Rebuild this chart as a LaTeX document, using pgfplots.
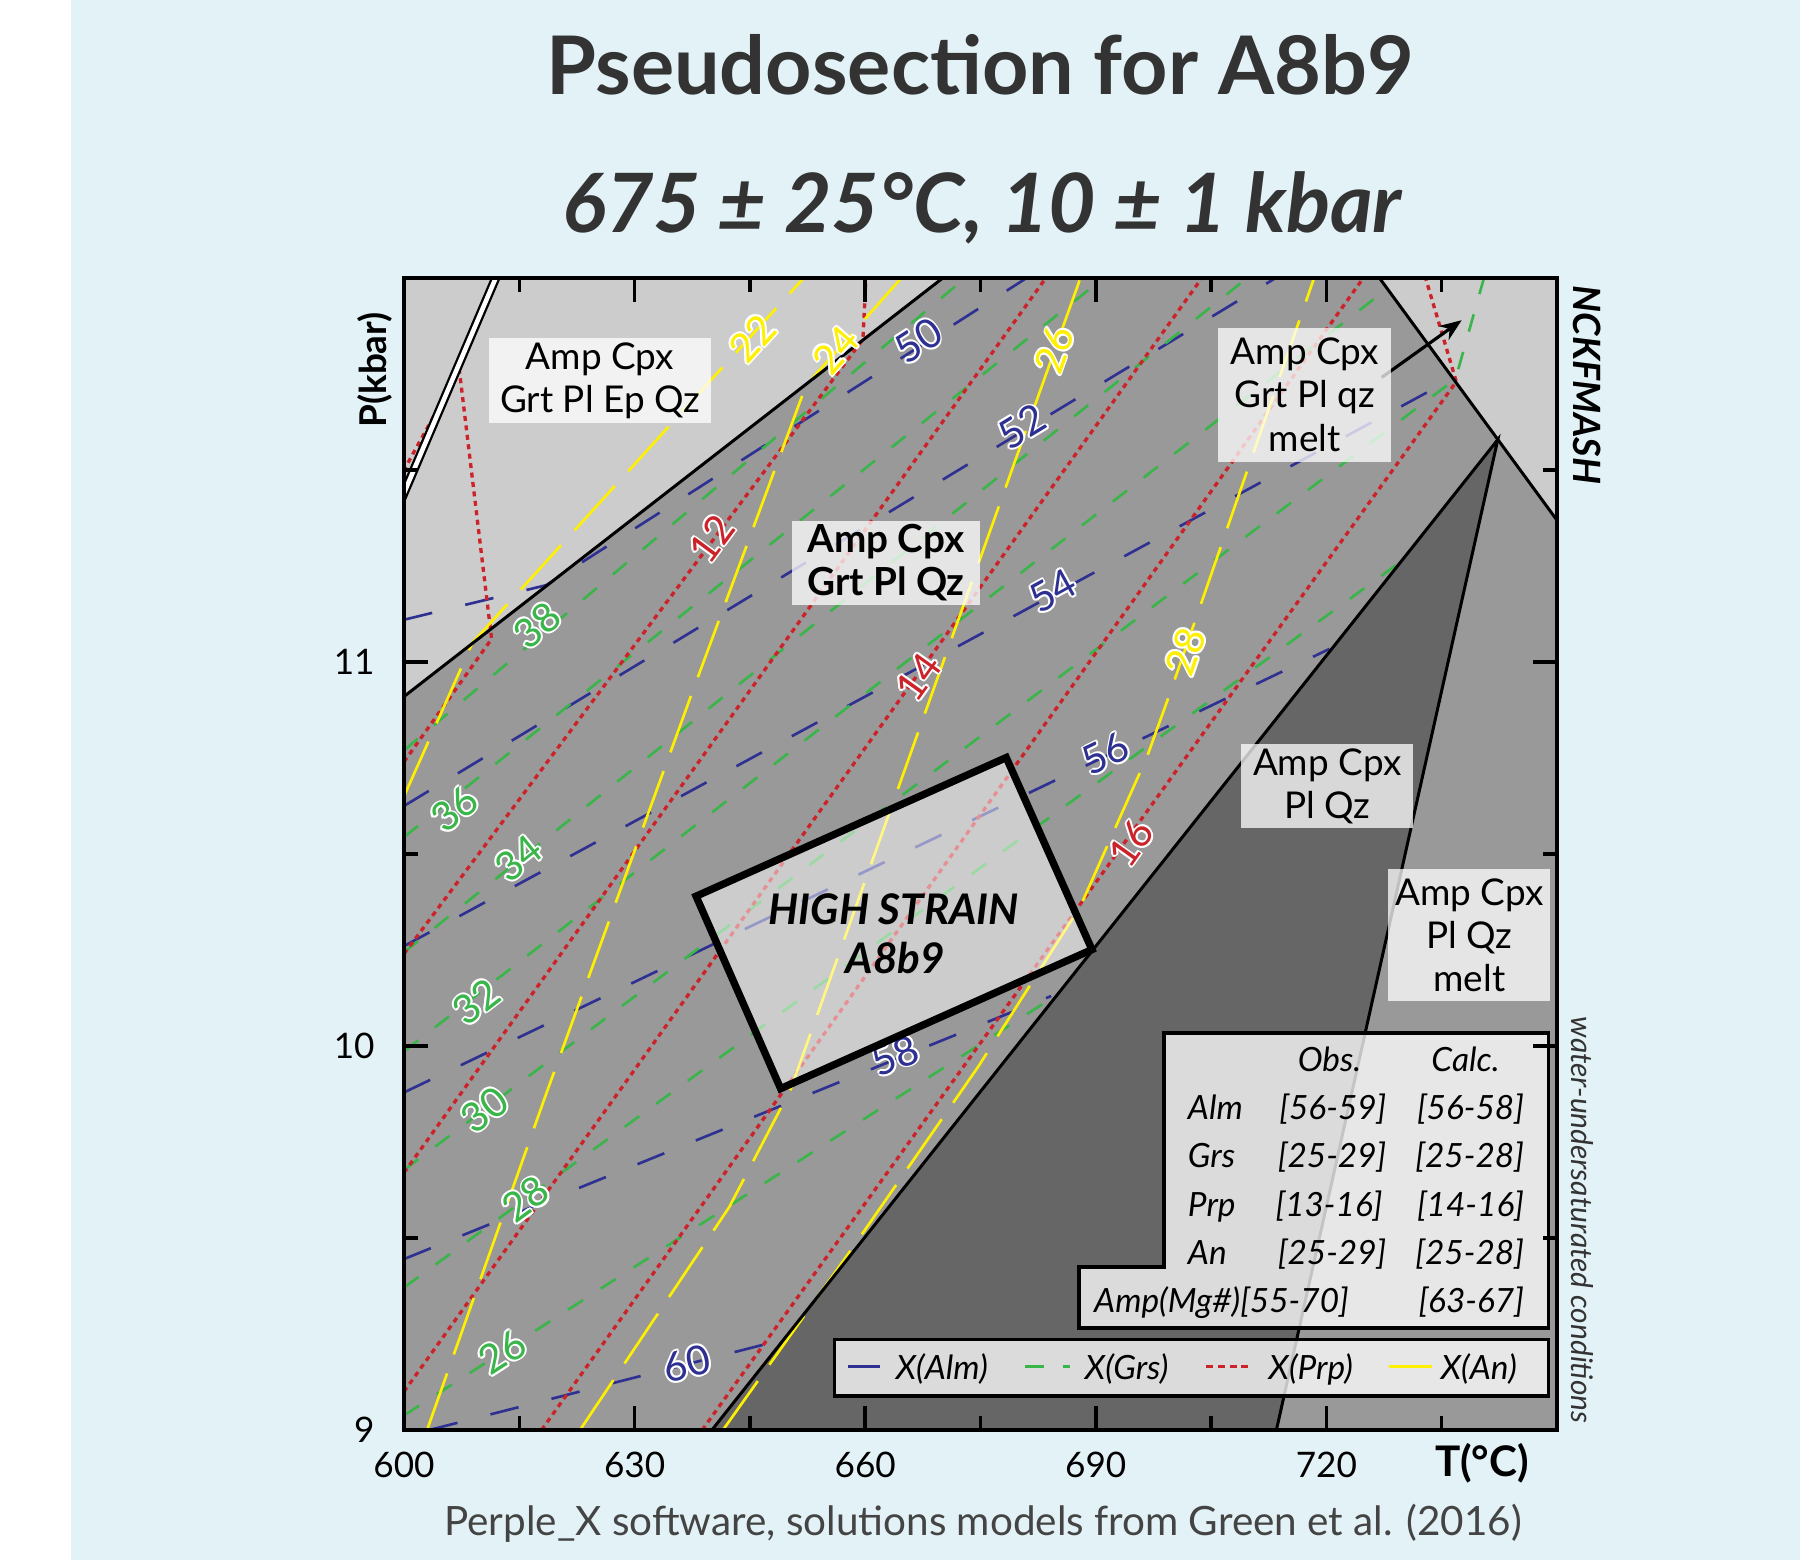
\documentclass[border=0pt]{standalone}
\usepackage{fontspec}
\setmainfont{Lato}
\usepackage{pgfplots}
\pgfplotsset{compat=1.18}
\usetikzlibrary{arrows.meta}

\definecolor{bgblue}{RGB}{227,242,246}
\definecolor{lgray}{RGB}{204,204,204}
\definecolor{mgray}{RGB}{153,153,153}
\definecolor{dgray}{RGB}{102,102,102}
\definecolor{almc}{RGB}{46,49,146}
\definecolor{grsc}{RGB}{57,181,74}
\definecolor{prpc}{RGB}{204,34,41}
\definecolor{anc}{RGB}{255,240,0}
\definecolor{tgray}{RGB}{51,51,51}
\definecolor{fgray}{RGB}{68,68,68}

% coloured text with a thin white outline
\newcommand\hl[2]{{\setbox0=\hbox{#2}\color{white}%
 \rlap{\kern0.55pt\copy0}\rlap{\kern-0.55pt\copy0}\rlap{\raise0.55pt\copy0}\rlap{\lower0.55pt\copy0}%
 \rlap{\kern0.4pt\raise0.4pt\copy0}\rlap{\kern-0.4pt\raise0.4pt\copy0}\rlap{\kern0.4pt\lower0.4pt\copy0}\rlap{\kern-0.4pt\lower0.4pt\copy0}%
 \color{#1}\copy0}}

\pgfplotsset{
 almL/.style={color=almc, line width=0.75pt, dash pattern=on 0.29cm off 0.34cm},
 grsL/.style={color=grsc, line width=0.75pt, dash pattern=on 0.18cm off 0.21cm},
 prpL/.style={color=prpc, line width=0.95pt, dash pattern=on 0.05cm off 0.045cm},
 anL/.style={color=anc, line width=0.75pt, dash pattern=on 0.6cm off 0.2cm},
 bnd/.style={color=black, line width=0.85pt},
}
\tikzset{
 clab/.style={inner sep=0pt, font=\fontsize{11.5}{13}\selectfont},
 pbox/.style={fill=white, fill opacity=0.75, text opacity=1, inner sep=0pt, align=center, font=\fontsize{10.5}{12.3}\selectfont},
 tab/.style={inner sep=0pt, font=\fontsize{9.5}{11}\selectfont\itshape},
}

\begin{document}
\begin{tikzpicture}
\useasboundingbox (0,0) rectangle (18,15.6);
\fill[white] (0,0) rectangle (0.71,15.6);
\fill[bgblue] (0.71,0) rectangle (18,15.6);

\begin{axis}[
  at={(4.04cm,1.30cm)}, anchor=south west,
  scale only axis, width=11.53cm, height=11.52cm,
  xmin=600, xmax=750, ymin=9, ymax=12,
  axis background/.style={fill=mgray},
  axis on top,
  xtick={600,630,660,690,720}, minor xtick={615,645,675,705,735},
  ytick={9,10,11}, minor ytick={9.5,10.5,11.5},
  tick align=inside, major tick length=0.24cm, minor tick length=0.14cm,
  every tick/.style={black, line width=1pt},
  axis line style={line width=1.1pt},
  ticklabel style={font=\fontsize{10}{12}\selectfont},
  xticklabel style={yshift=-0.1cm},
  yticklabel style={xshift=-0.17cm},
  /pgf/number format/assume math mode=true,
]

% ---- phase fields
\addplot[draw=none, fill=lgray] coordinates {(600,10.91) (670.1,12) (600,12)} -- cycle;
\addplot[draw=none, fill=lgray] coordinates {(726.9,12) (742.3,11.579) (750,11.369) (750,12)} -- cycle;
\addplot[draw=none, fill=dgray] coordinates {(640.06,9) (742.3,11.579) (713.5,9)} -- cycle;

% ---- X(Alm)
\addplot[almL] coordinates {(600,11.11) (618.5,11.20) (681,12)};
\addplot[almL] coordinates {(600,10.625) (713.4,12)};
\addplot[almL] coordinates {(600,10.26) (736.6,11.74)};
\addplot[almL] coordinates {(600,9.879) (720.4,11.034)};
\addplot[almL] coordinates {(600,9.445) (684.2,10.13)};
\addplot[almL] coordinates {(603.3,9.0) (649.3,9.235)};

% ---- X(Grs)
\addplot[grsL] coordinates {(600,10.77) (673,12)};
\addplot[grsL] coordinates {(600,10.544) (691,12)};
\addplot[grsL] coordinates {(600,10.244) (709.7,12)};
\addplot[grsL] coordinates {(600,9.986) (728.1,11.975)};
\addplot[grsL] coordinates {(600,9.677) (736.8,11.737) (740.5,12)};
\addplot[grsL] coordinates {(600,9.371) (729.6,11.26)};
\addplot[grsL] coordinates {(600,9.038) (684.7,10.13)};

% ---- X(Prp)
\addplot[prpL] coordinates {(600,10.74) (611.4,11.06) (607.2,11.76) (600,11.50)};
\addplot[prpL] coordinates {(600,10.24) (659.7,11.84) (660.1,12)};
\addplot[prpL] coordinates {(600,9.67) (683.5,12)};
\addplot[prpL] coordinates {(600,9.10) (703.8,12)};
\addplot[prpL] coordinates {(617.9,9.0) (724.8,12)};
\addplot[prpL] coordinates {(638.8,9.0) (687.5,10.356) (736.9,11.73) (732.9,12)};

% ---- X(An)
\addplot[anL] coordinates {(600,10.65) (608.9,11.05) (652,12)};
\addplot[anL] coordinates {(603,9.0) (618.4,9.87) (637.3,10.91) (652.3,11.72) (664.7,12)};
\addplot[anL] coordinates {(622.9,9.0) (642.3,9.58) (650.3,9.887) (688,12)};
\addplot[anL] coordinates {(641.5,9.0) (658.2,9.47) (674.7,9.946) (688,10.364) (696.7,10.755) (699.5,10.91) (718.4,12)};

% ---- field boundaries
\addplot[bnd] coordinates {(600,10.91) (670.1,12)};
\addplot[bnd] coordinates {(726.9,12) (750,11.369)};
\addplot[bnd] coordinates {(640.06,9) (742.3,11.579) (713.5,9)};
\addplot[black, line width=2.6pt] coordinates {(598,11.346) (613,12.05)};
\addplot[white, line width=1.3pt] coordinates {(598,11.346) (613,12.05)};
\addplot[black, line width=0.9pt, -{Stealth[length=0.22cm, width=0.17cm]}] coordinates {(727.2,11.741) (737.6,11.89)};

% ---- contour labels
\node[clab, rotate=32.6] at (axis cs:666.9,11.837) {\hl{almc}{50}};
\node[clab, rotate=31.2] at (axis cs:680.4,11.613) {\hl{almc}{52}};
\node[clab, rotate=28.8] at (axis cs:684.4,11.185) {\hl{almc}{54}};
\node[clab, rotate=25.6] at (axis cs:691.3,10.761) {\hl{almc}{56}};
\node[clab, rotate=21.8] at (axis cs:663.9,9.975) {\hl{almc}{58}};
\node[clab, rotate=14.3] at (axis cs:636.8,9.173) {\hl{almc}{60}};
\node[clab, rotate=40] at (axis cs:617.3,11.096) {\hl{grsc}{38}};
\node[clab, rotate=38.6] at (axis cs:606.6,10.617) {\hl{grsc}{36}};
\node[clab, rotate=38.6] at (axis cs:614.9,10.489) {\hl{grsc}{34}};
\node[clab, rotate=37.7] at (axis cs:609.4,10.115) {\hl{grsc}{32}};
\node[clab, rotate=37] at (axis cs:610.5,9.834) {\hl{grsc}{30}};
\node[clab, rotate=36.1] at (axis cs:615.8,9.601) {\hl{grsc}{28}};
\node[clab, rotate=32.8] at (axis cs:612.8,9.203) {\hl{grsc}{26}};
\node[clab, rotate=53.5] at (axis cs:640.0,11.32) {\hl{prpc}{12}};
\node[clab, rotate=54.5] at (axis cs:666.9,10.961) {\hl{prpc}{14}};
\node[clab, rotate=54.5] at (axis cs:694.6,10.528) {\hl{prpc}{16}};
\node[clab, rotate=47.7] at (axis cs:645.3,11.843) {\hl{anc}{22}};
\node[clab, rotate=48.5] at (axis cs:656.2,11.813) {\hl{anc}{24}};
\node[clab, rotate=70.3] at (axis cs:684.6,11.813) {\hl{anc}{26}};
\node[clab, rotate=71] at (axis cs:701.7,11.027) {\hl{anc}{28}};

% ---- field labels
\node[pbox, minimum width=2.22cm, minimum height=0.85cm] at (axis cs:625.5,11.732) {Amp Cpx\\Grt Pl Ep Qz};
\node[pbox, minimum width=1.88cm, minimum height=0.84cm, font=\fontsize{11}{12.3}\selectfont\bfseries] at (axis cs:662.7,11.258) {Amp Cpx\\Grt Pl Qz};
\node[pbox, minimum width=1.73cm, minimum height=1.34cm] at (axis cs:717.2,11.696) {Amp Cpx\\Grt Pl qz\\melt};
\node[pbox, minimum width=1.72cm, minimum height=0.84cm] at (axis cs:720.1,10.677) {Amp Cpx\\Pl Qz};
\node[pbox, minimum width=1.62cm, minimum height=1.32cm] at (axis cs:738.6,10.288) {Amp Cpx\\Pl Qz\\melt};

% ---- high strain domain
\addplot[draw=black, line width=2.1pt, line join=miter, fill=white, fill opacity=0.5] coordinates {(638.0,10.39) (678.35,10.751) (689.5,10.251) (649.0,9.889)} -- cycle;
\node[inner sep=0pt, anchor=base, font=\fontsize{12}{14}\selectfont\bfseries\itshape] at (axis cs:663.7,10.316) {HIGH STRAIN};
\node[inner sep=0pt, anchor=base, font=\fontsize{12}{14}\selectfont\bfseries\itshape] at (axis cs:663.9,10.19) {A8b9};

% ---- composition table
\addplot[draw=black, line width=1pt, fill=white, fill opacity=0.77] coordinates {(698.9,10.034) (748.9,10.034) (748.9,9.266) (687.8,9.266) (687.8,9.424) (698.9,9.424)} -- cycle;
\node[tab, anchor=base] at (axis cs:720.4,9.934) {Obs.};
\node[tab, anchor=base] at (axis cs:738.1,9.934) {Calc.};
\node[tab, anchor=base west] at (axis cs:701.9,9.808) {Alm};
\node[tab, anchor=base west] at (axis cs:701.9,9.683) {Grs};
\node[tab, anchor=base west] at (axis cs:701.9,9.557) {Prp};
\node[tab, anchor=base west] at (axis cs:701.9,9.431) {An};
\node[tab, anchor=base west] at (axis cs:689.7,9.305) {Amp(Mg\#)[55-70]};
\node[tab, anchor=base east] at (axis cs:727.9,9.808) {[56-59]};
\node[tab, anchor=base east] at (axis cs:727.9,9.683) {[25-29]};
\node[tab, anchor=base east] at (axis cs:727.4,9.557) {[13-16]};
\node[tab, anchor=base east] at (axis cs:727.9,9.431) {[25-29]};
\node[tab, anchor=base east] at (axis cs:745.8,9.808) {[56-58]};
\node[tab, anchor=base east] at (axis cs:745.8,9.683) {[25-28]};
\node[tab, anchor=base east] at (axis cs:745.8,9.557) {[14-16]};
\node[tab, anchor=base east] at (axis cs:745.8,9.431) {[25-28]};
\node[tab, anchor=base east] at (axis cs:745.8,9.305) {[63-67]};

% ---- legend
\addplot[draw=black, line width=1pt, fill=white, fill opacity=0.77] coordinates {(656,9.236) (748.9,9.236) (748.9,9.088) (656,9.088)} -- cycle;
\addplot[color=almc, line width=0.9pt] coordinates {(657.8,9.166) (661.97,9.166)};
\addplot[color=grsc, line width=0.9pt] coordinates {(680.8,9.166) (683.3,9.166)};
\addplot[color=grsc, line width=0.9pt] coordinates {(685.7,9.166) (686.7,9.166)};
\addplot[color=prpc, line width=0.9pt, dash pattern=on 0.07cm off 0.046cm] coordinates {(704.4,9.166) (710.4,9.166)};
\addplot[color=anc, line width=0.9pt] coordinates {(728.1,9.166) (733.8,9.166)};
\node[tab, anchor=base west] at (axis cs:663.9,9.1315) {X(Alm)};
\node[tab, anchor=base west] at (axis cs:688.5,9.1315) {X(Grs)};
\node[tab, anchor=base west] at (axis cs:712.4,9.1315) {X(Prp)};
\node[tab, anchor=base west] at (axis cs:734.8,9.1315) {X(An)};
\end{axis}

% ---- titles and outer labels
\node[font=\fontsize{23}{27}\selectfont\bfseries, text=tgray, anchor=base] at (9.80,14.65) {Pseudosection for A8b9};
\node[font=\fontsize{23.3}{28}\selectfont\bfseries\itshape, text=tgray, anchor=base] at (9.82,13.27) {675 ± 25°C, 10 ± 1 kbar};
\node[font=\fontsize{11.5}{14}\selectfont, text=fgray, anchor=base] at (9.83,0.24) {Perple\_X software, solutions models from Green et al. (2016)};
\node[font=\fontsize{10.5}{12}\selectfont\bfseries, rotate=90] at (3.75,11.90) {P(kbar)};
\node[font=\fontsize{12}{14}\selectfont\bfseries, anchor=base] at (14.82,0.83) {T(°C)};
\node[font=\fontsize{10.7}{12}\selectfont\bfseries\itshape, rotate=-90] at (15.87,11.75) {NCKFMASH};
\node[font=\fontsize{8.5}{10}\selectfont\itshape, text=tgray, rotate=-90] at (15.82,3.40) {water-undersaturated conditions};
\end{tikzpicture}
\end{document}
